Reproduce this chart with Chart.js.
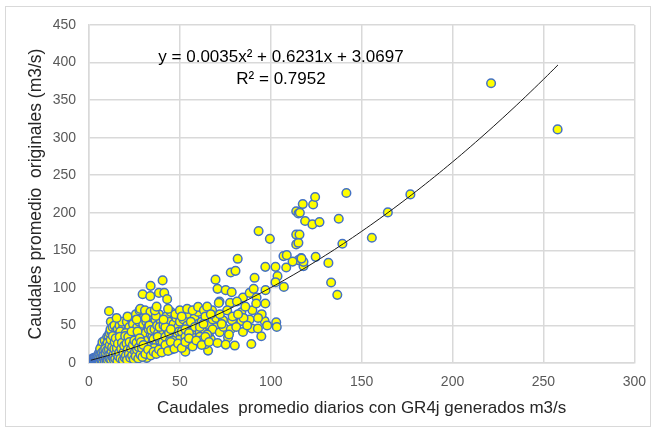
<!DOCTYPE html>
<html>
<head>
<meta charset="utf-8">
<script src="https://cdn.jsdelivr.net/npm/chart.js@4.4.1/dist/chart.umd.min.js"></script>
<style>
  body { margin: 0; background: #fff; }
  #wrap { width: 657px; height: 432px; }
</style>
</head>
<body>
<div id="wrap"><canvas id="chart" width="657" height="432"></canvas></div>
<script>
// Caudales simulados (GR4j) vs originales, pares [x, y]
const puntos = [
  [0.5,1],[1,2],[1.5,1],[2,3],[2.5,2],[3,4],[3.5,5],[4,3],[4.5,6],[5,4],[0.8,0.5],[1.2,3],[2.2,5],[3.3,2],[4.2,8],
  [1.8,6],[2.8,7],[3.8,1.5],[4.8,9],[0.3,0.2],[1,4],[2,1],[3,6],[4,2],[5,7],
  [5.5,5],[6,8],[6.5,10],[7,6],[7.5,12],[8,9],[8.5,14],[9,7],[9.5,11],[10,13],[5.8,15],[6.3,3],[7.2,18],[8.2,4],
  [9.2,20],[6.8,22],[7.8,25],[8.8,16],[9.8,5],[5.2,12],[6.1,19],[7.4,28],[8.6,30],[9.4,24],[10,35],
  [10.5,8],[11,15],[11.5,20],[12,10],[12.5,25],[13,18],[13.5,30],[14,12],[14.5,22],[15,28],[10.8,35],[11.3,40],
  [12.2,42],[13.2,6],[14.2,38],[11.8,45],[12.8,33],[13.8,26],[14.8,16],[10.2,27],[11,69],[12,55],[13,48],[14,50],
  [15,43],[11.6,3],[12.6,12],[14.6,9],
  [15.5,10],[16,20],[16.5,30],[17,15],[17.5,25],[18,35],[18.5,12],[19,40],[19.5,28],[20,22],[15.8,45],[16.8,50],
  [17.8,8],[18.8,48],[19.8,18],[16.2,38],[17.2,42],[18.2,55],[19.2,32],[15.2,60],[16.4,5],[18.4,20],[19.6,10],[17.6,33],
  [20.5,15],[21,30],[21.5,45],[22,20],[22.5,38],[23,25],[23.5,50],[24,12],[24.5,33],[25,42],[20.8,55],[21.8,8],
  [22.8,60],[23.8,28],[24.8,18],[21.2,62],[22.2,48],[23.2,35],[24.2,52],[20.2,40],[25,8],[22.6,15],
  [25.5,22],[26,35],[26.5,48],[27,28],[27.5,55],[28,18],[28.5,40],[29,62],[29.5,30],[30,45],[25.8,65],[26.8,12],
  [27.8,70],[28.8,25],[29.8,52],[26.2,58],[27.2,38],[28.2,72],[29.2,15],[30,35],[31.7,6.7],
  [30.5,25],[31,40],[31.5,55],[32,30],[32.5,48],[33,62],[33.5,20],[34,38],[34.5,52],[35,28],[30.8,70],[31.8,15],
  [32.8,45],[33.8,68],[34.8,35],[29.5,91.6],[33.7,89],[33.9,102.7],[31.2,60],[32.2,22],[33.2,50],[34.2,44],
  [35.5,32],[36,45],[36.5,58],[37,25],[37.5,50],[38,40],[38.5,65],[39,30],[39.5,55],[40,42],[36.8,62.7],[38.5,93.3],
  [40.5,110],[41.4,93.3],[43,85],[35.8,20],[36.2,70],[37.8,35],[38.8,48],[39.8,22],[37.2,75],
  [40.5,28],[41,50],[42,35],[42.5,62],[43,45],[44,55],[44.5,30],[45,68],[46,40],[46.5,52],[47,25],[48,60],[48.5,38],
  [49,48],[50,32],[50,55],[41.5,20],[43.5,72],[45.5,18],[47.5,65],[49.5,42],[42,48],[44,40],[46,30],[48,22],[50,70],
  [41,58],[45,45],
  [51,42],[52,58],[53,35],[54,50],[55,65],[56,30],[57,48],[58,60],[59,38],[60,52],[52,22],[54,72],[56,55],[58,28],
  [60,68],[51,62],[53,45],[55,25],[57,70],[59,44],[58.2,48],[60.9,41],[60,74.7],[55,40],[53,15],
  [63.2,70.3],[67.7,70.3],[63.7,43.6],[67,32],[70.7,26.7],[65.5,16.5],[69.2,48],[62,55],[64,62],[66,50],[68,58],
  [61,35],[65,75],[69.6,111],[62,30],[64,25],[66,40],[68,45],[70,60],[61,48],[67,65],[63,52],[65,38],
  [70.7,98.7],[75.2,97],[78.5,94.3],[71.8,81.9],[71.4,80],[77.6,80],[73.7,57],[78.7,57],[71.9,41],[76.5,33.9],
  [75.2,24.5],[80.2,23.2],[78,120.5],[80.6,122.7],[72,65],[74,48],[76,70],[78,45],[79,62],[73,52],[77,38],
  [81.8,138.7],[84.7,87.2],[81.4,81.9],[83.8,67.6],[89.9,70.3],[83.8,56],[88.4,57.9],[81,48],[84.7,41.3],
  [89.6,45.9],[89.3,25.3],[88.4,93.3],[85,60],[87,50],[82,65],[86,75],
  [91.1,113.4],[90.6,98.7],[92.2,87.2],[92,79.2],[97,79.2],[97.1,97],[96.6,56],[94.8,35.6],[92.9,45.9],
  [93.3,175.6],[99.5,165.3],[97,128],[95,65],[98,50],[93,60],
  [102.6,128],[103.7,115.6],[108.5,127.2],[107,142.3],[108.8,143.6],[102.6,107.6],[107.2,101.3],[103,54.3],
  [103.3,48],[115.2,137],[116.7,139.6],[118,129],[114,157.9],[115.2,160],[114,171],[115.8,171],[114,202],
  [115.2,199],[117.6,211.6],[118.9,189],[116,200],[118,134.7],[116.9,139],[112,135],
  [123.3,211],[124.4,221],[122.9,184.5],[126.8,187.6],[124.7,141.3],[131.7,133.3],[133.2,107.2],[136.6,90.7],
  [137.4,192],[139.4,158.7],[141.6,226.3],[155.6,166.7],[164.4,200.5],[176.8,224.5],[221.2,372.5],[257.8,311],
  // nube densa de caudales bajos
  [0.2,0.5],[0.4,1.5],[0.6,2.5],[0.9,1],[1.1,0.3],[1.4,2],[1.7,3.5],[1.9,0.8],[2.1,2.5],[2.4,4],[2.6,1.2],[2.9,3],
  [3.1,5.5],[3.4,0.8],[3.6,3.5],[3.9,6.5],[4.1,4.5],[4.4,1],[4.6,7.5],[4.9,2.5],[5.1,9],[5.3,3],[5.6,7],[5.9,1.5],
  [6.2,11],[6.4,5.5],[6.7,8],[6.9,2],[7.1,14],[7.3,4],[7.6,9],[7.9,16],[8.1,6],[8.3,11],[8.7,2.5],[8.9,19],[9.1,8],
  [9.3,13],[9.6,3],[9.9,17],
  [10.3,4],[10.6,10],[10.9,18],[11.2,6],[11.4,24],[11.7,12],[11.9,31],[12.1,4.5],[12.4,16],[12.7,21],[12.9,8],
  [13.1,36],[13.4,11],[13.7,4],[13.9,19],[14.1,28],[14.4,6],[14.7,33],[14.9,13],[15.3,20],[15.6,3],[15.9,26],[16.1,9],
  [16.6,14],[16.9,35],[17.3,6],[17.7,19],[18.1,27],[18.6,4],[18.9,14],[19.3,23],[19.7,7],[19.9,36],
  [20.3,10],[20.6,26],[20.9,4],[21.3,18],[21.6,35],[21.9,12],[22.3,28],[22.7,7],[23.1,19],[23.4,42],[23.7,10],
  [24.1,24],[24.6,5],[24.9,30],[25.3,15],[25.7,9],[26.1,27],[26.4,18],[26.7,42],[27.1,6],[27.4,21],[27.9,33],
  [28.3,11],[28.6,28],[29.1,20],[29.4,8],[29.9,24],
  [31,12],[32.5,18],[34,10],[35.5,15],[37,12],[38.5,18],[40,14],[42,24],[43.5,16],[45,28],[47,19],[49,26],[51,20],
  [53,28],[55,33],[57,22],[59,30],[62,24],[64,35],[66,28]
];

// Línea de tendencia polinómica (orden 2) que muestra el gráfico
const coefA = 0.0035, coefB = 0.6231, coefC = 3.0697;
const trendX = [1, 10, 20, 30, 40, 50, 60, 70, 80, 90, 100, 110, 120, 130, 140, 150, 160, 170, 180, 190,
  200, 210, 220, 230, 240, 250, 258];
const ecuacion = 'y = 0.0035x\u00B2 + 0.6231x + 3.0697';
const r2Texto = 'R\u00B2 = 0.7952';

const xTicks = [0, 50, 100, 150, 200, 250, 300];
const yTicks = [0, 50, 100, 150, 200, 250, 300, 350, 400, 450];

const gridColor = '#d9d9d9';
const tickColor = '#595959';
const fontName = '"Liberation Sans", Arial, sans-serif';

// marco exterior + ecuación de la tendencia
const extras = {
  id: 'extras',
  beforeDraw(chart) {
    const ctx = chart.ctx;
    ctx.save();
    ctx.fillStyle = '#fff';
    ctx.fillRect(0, 0, chart.width, chart.height);
    ctx.strokeStyle = gridColor;
    ctx.lineWidth = 1;
    ctx.strokeRect(5.5, 6.5, 645, 420);
    ctx.restore();
  },
  afterDraw(chart) {
    const ctx = chart.ctx;
    ctx.save();
    ctx.fillStyle = '#000';
    ctx.font = '17px ' + fontName;
    ctx.textAlign = 'center';
    ctx.textBaseline = 'middle';
    ctx.fillText(ecuacion, 281, 57);
    ctx.fillText(r2Texto, 281, 79);
    ctx.restore();
  }
};

new Chart(document.getElementById('chart'), {
  type: 'scatter',
  data: {
    datasets: [
      {
        type: 'line',
        label: 'Tendencia',
        data: trendX.map(x => ({ x: x, y: coefA * x * x + coefB * x + coefC })),
        borderColor: '#1a1a1a',
        borderWidth: 1,
        pointRadius: 0,
        tension: 0.4,
        fill: false,
        order: 0
      },
      {
        label: 'Caudales',
        data: puntos.map(p => ({ x: p[0], y: p[1] })),
        backgroundColor: '#ffff00',
        borderColor: '#4472c4',
        borderWidth: 1.5,
        pointRadius: 4.3,
        order: 1
      }
    ]
  },
  options: {
    responsive: false,
    animation: false,
    layout: { padding: { top: 25, right: 21, left: 0, bottom: 0 } },
    plugins: {
      legend: { display: false },
      tooltip: { enabled: false }
    },
    scales: {
      x: {
        type: 'linear',
        min: 0, max: 300,
        afterBuildTicks: s => { s.ticks = xTicks.map(v => ({ value: v })); },
        afterFit: s => { s.height = 69; },
        grid: { color: gridColor, lineWidth: 1.5, drawTicks: false },
        border: { color: gridColor, width: 1.5 },
        ticks: { color: tickColor, padding: 11, font: { family: fontName, size: 14 } },
        title: {
          display: true,
          text: 'Caudales  promedio diarios con GR4j generados m3/s',
          color: '#262626',
          font: { family: fontName, size: 17 },
          padding: { top: 0, bottom: 13 }
        }
      },
      y: {
        type: 'linear',
        min: 0, max: 450,
        afterBuildTicks: s => { s.ticks = yTicks.map(v => ({ value: v })); },
        afterFit: s => { s.width = 89; },
        grid: { color: gridColor, lineWidth: 1.5, drawTicks: false },
        border: { color: gridColor, width: 1.5 },
        ticks: { color: tickColor, padding: 13, font: { family: fontName, size: 14 } },
        title: {
          display: true,
          text: 'Caudales promedio  originales (m3/s)',
          color: '#262626',
          font: { family: fontName, size: 17.5 },
          padding: { top: 26, bottom: 0 }
        }
      }
    }
  },
  plugins: [extras]
});
</script>
</body>
</html>
